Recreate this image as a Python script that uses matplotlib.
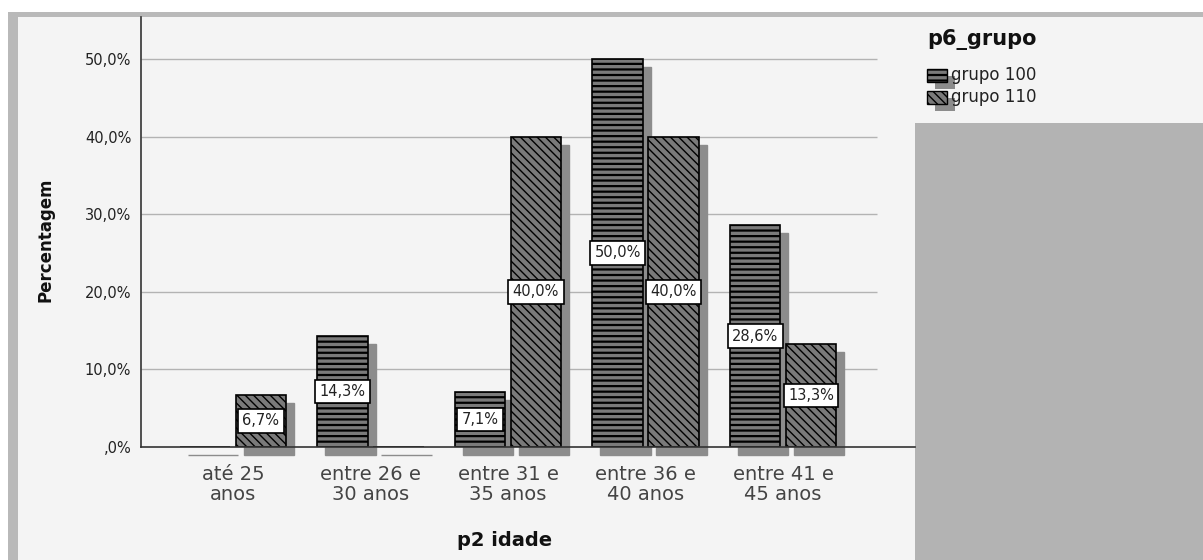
"""Percentagem por faixa etaria (p2 idade) e grupo (p6_grupo)."""

import matplotlib as mpl
import matplotlib.pyplot as plt
import numpy as np
from matplotlib.patches import Rectangle
from matplotlib.ticker import FuncFormatter
from matplotlib.transforms import ScaledTranslation

plt.rcParams["font.family"] = ["DejaVu Sans"]
plt.rcParams["hatch.color"] = "black"

AGE_GROUPS = [
    "até 25\nanos",
    "entre 26 e\n30 anos",
    "entre 31 e\n35 anos",
    "entre 36 e\n40 anos",
    "entre 41 e\n45 anos",
]
GROUPS = ["grupo 100", "grupo 110"]
GRUPO_100 = [0.0, 14.3, 7.1, 50.0, 28.6]
GRUPO_110 = [6.7, 0.0, 40.0, 40.0, 13.3]
Y_TICKS = [0, 10, 20, 30, 40, 50]

HATCHES = ["---", "\\\\\\\\"]
HATCH_LW = [1.6, 1.0]
BAR_FACE = "#7a7a7a"
SHADOW = "#8c8c8c"
PANEL = "#f4f4f4"
FRAME = "#b9b9b9"


def pct_label(v, _pos=None):
    s = f"{v:.1f}%".replace(".", ",")
    if s.startswith("0,"):
        s = s[1:]
    return s


fig = plt.figure(figsize=(12.03, 5.6), dpi=100)
fig.patch.set_facecolor("white")

# outer frame + panel background
fig.patches.append(Rectangle((8 / 1203, 0), 1 - 8 / 1203, 1 - 12 / 560,
                             transform=fig.transFigure, facecolor=FRAME,
                             edgecolor="none", zorder=-10))
fig.patches.append(Rectangle((18 / 1203, 0), 1 - 18 / 1203, 1 - 17 / 560,
                             transform=fig.transFigure, facecolor=PANEL,
                             edgecolor="none", zorder=-9))
fig.patches.append(Rectangle((915 / 1203, 0), 1 - 915 / 1203, 1 - 123 / 560,
                             transform=fig.transFigure, facecolor="#b3b3b3",
                             edgecolor="none", zorder=-8))

ax = fig.add_axes([141 / 1203, 113 / 560, 774 / 1203, 430 / 560])
ax.set_facecolor("none")

x = np.arange(len(AGE_GROUPS))
width = 0.364
offset = 0.2036
shadow_tf = ax.transData + ScaledTranslation(8 / 100, -8 / 100, fig.dpi_scale_trans)

for i, (vals, hatch) in enumerate(zip([GRUPO_100, GRUPO_110], HATCHES)):
    xpos = x + (i * 2 - 1) * offset
    ax.bar(xpos, vals, width, color=SHADOW, edgecolor=SHADOW, linewidth=1,
           transform=shadow_tf, clip_on=False, zorder=1)
    with mpl.rc_context({"hatch.linewidth": HATCH_LW[i]}):
        ax.bar(xpos, vals, width, color=BAR_FACE, edgecolor="black",
               linewidth=1.2, hatch=hatch, zorder=2, label=GROUPS[i])
    for xp, v in zip(xpos, vals):
        if v == 0:
            continue
        ax.text(xp, v / 2, pct_label(v), ha="center", va="center",
                fontsize=10.5, color="#222222", zorder=4,
                bbox=dict(boxstyle="square,pad=0.3", facecolor="white",
                          edgecolor="black", linewidth=1.2))

ax.set_xlim(-0.669, 4.96)
ax.set_ylim(0, 55.4)
ax.hlines(Y_TICKS[1:], -0.669, 4.684, color="#b3b3b3", linewidth=1, zorder=0)

ax.set_yticks(Y_TICKS)
ax.yaxis.set_major_formatter(FuncFormatter(pct_label))
ax.set_xticks(x)
ax.set_xticklabels(AGE_GROUPS, fontsize=14, color="#444444", linespacing=1.05)
ax.tick_params(axis="y", length=0, pad=7, labelsize=10.5, labelcolor="#222222")
ax.tick_params(axis="x", length=0, pad=13)

for side in ("top", "right"):
    ax.spines[side].set_visible(False)
for side in ("left", "bottom"):
    ax.spines[side].set_color("#333333")
    ax.spines[side].set_linewidth(1.2)
    ax.spines[side].set_zorder(3)

fig.text(45 / 1203, 1 - 240 / 560, "Percentagem", rotation=90, ha="center",
         va="center", fontsize=12, fontweight="bold", color="#111111")
fig.text(505 / 1203, 1 - 541 / 560, "p2 idade", ha="center", va="center",
         fontsize=14, fontweight="bold", color="#111111")

# legend block
fig.text(927 / 1203, 1 - 40 / 560, "p6_grupo", ha="left", va="center",
         fontsize=15, fontweight="bold", color="#111111")
for i, (name, hatch) in enumerate(zip(GROUPS, HATCHES)):
    yc = 75 + i * 22
    fig.patches.append(Rectangle((935 / 1203, 1 - (yc + 14) / 560), 20 / 1203,
                                 13 / 560, transform=fig.transFigure,
                                 facecolor=SHADOW, edgecolor="none"))
    with mpl.rc_context({"hatch.linewidth": HATCH_LW[i]}):
        fig.patches.append(Rectangle((927 / 1203, 1 - (yc + 7) / 560), 20 / 1203,
                                     13 / 560, transform=fig.transFigure,
                                     facecolor=BAR_FACE, edgecolor="black",
                                     linewidth=1, hatch=hatch))
    fig.text(951 / 1203, 1 - yc / 560, name, ha="left", va="center",
             fontsize=12, color="#222222")

fig.savefig("out.png", dpi=100)
